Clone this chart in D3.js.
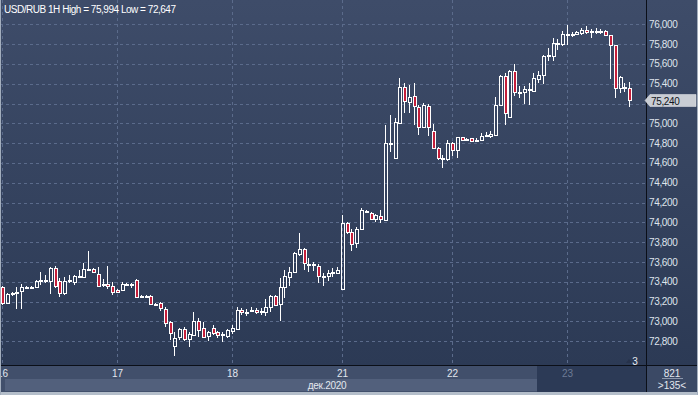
<!DOCTYPE html>
<html>
<head>
<meta charset="utf-8">
<script src="https://cdn.jsdelivr.net/npm/d3@7"></script>
<style>
  html, body { margin: 0; padding: 0; background: #2c3a55; overflow: hidden; }
  svg { display: block; font-family: "Liberation Sans", Arial, sans-serif; }
</style>
</head>
<body>
<div id="chart"></div>
<script>
/* data : hourly candles USD/RUB */
var opens = [73345,73183,73274,73291,73311,73345,73351,73345,73412,73419,73412,73536,73405,73284,73412,73402,73459,73446,73526,73526,73479,73368,73375,73358,
  73318,73318,73375,73378,73419,73255,73261,73257,73176,73190,73126,72995,72756,72847,72921,72820,72863,73008,72937,72853,72937,72894,72860,72853,
  72904,72927,73112,73095,73112,73119,73099,73099,73143,73257,73173,73345,73452,73496,73685,73732,73577,73577,73557,73452,73462,73493,73493,
  73331,73997,73907,73796,73930,74119,74098,74031,74068,74024,74798,74647,75000,75364,75219,75276,75168,74960,75175,74923,74748,74647,74637,
  74798,74731,74859,74842,74849,74832,74835,74876,74872,74886,75189,75475,75064,75525,75317,75317,75347,75330,75451,75485,75683,75683,75811,75805,
  75902,75902,75899,75912,75939,75929,75929,75929,75929,75889,75788,75357,75367,75357]
var highs = [73360,73290,73301,73351,73378,73358,73358,73419,73496,73469,73553,73560,73436,73452,73469,73469,73520,73594,73711,73536,73546,73425,73560,73402,
  73330,73402,73385,73385,73429,73267,73267,73267,73183,73200,73150,73005,72897,72937,72948,72897,73092,73038,72998,72904,72964,72904,72890,72924,
  72964,73149,73139,73126,73146,73133,73133,73227,73267,73267,73436,73520,73553,73705,73893,73738,73637,73597,73577,73486,73520,73536,73553,
  74075,74008,73930,73957,74149,74125,74109,74085,74125,74983,75084,75051,75454,75411,75387,75411,75185,75202,75195,74993,74765,74681,74832,
  74815,74866,74866,74856,74856,74849,74899,74909,74923,75263,75492,75508,75542,75599,75374,75374,75407,75508,75525,75687,75761,75862,75855,75929,
  75994,75922,75929,75963,75980,75953,75963,75953,75946,75895,75794,75475,75407,75418]
var lows = [73170,73176,73257,73123,73123,73341,73341,73341,73368,73385,73274,73335,73244,73267,73385,73368,73436,73436,73524,73490,73351,73351,73324,73267,
  73284,73311,73368,73341,73244,73250,73250,73166,73166,73109,72941,72813,72647,72813,72803,72746,72860,72847,72830,72803,72863,72830,72796,72830,
  72870,72924,73065,73059,73092,73072,73065,73059,73092,73153,73008,73240,73362,73486,73664,73516,73503,73510,73385,73358,73409,73452,73476,
  73325,73883,73715,73745,73923,74098,74024,74008,73991,74018,74714,74647,74993,75101,75101,74983,74882,74950,74872,74738,74630,74546,74623,
  74670,74647,74822,74825,74818,74825,74825,74866,74856,74879,75182,74980,75061,75273,75256,75195,75189,75317,75407,75397,75626,75626,75744,75778,
  75788,75872,75889,75895,75905,75862,75905,75902,75879,75451,75256,75306,75317,75162]
var closes = [73183,73274,73291,73295,73345,73351,73348,73412,73419,73415,73536,73358,73284,73412,73415,73459,73455,73526,73533,73496,73358,73375,73358,73301,
  73294,73375,73378,73375,73250,73261,73257,73176,73173,73133,72981,72881,72837,72921,72823,72870,73008,72914,72847,72890,72887,72860,72870,72911,
  72931,73112,73092,73099,73116,73099,73102,73143,73257,73166,73351,73459,73496,73688,73732,73587,73580,73573,73459,73455,73486,73496,73520,
  73997,73907,73779,73930,74125,74105,74031,74075,74031,74798,74801,75010,75364,75226,75269,75175,74960,75185,74960,74748,74647,74650,74798,
  74731,74859,74829,74845,74822,74835,74876,74879,74889,75182,75475,75105,75525,75317,75320,75347,75350,75458,75485,75677,75686,75811,75814,75902,
  75905,75899,75919,75946,75922,75926,75932,75926,75889,75794,75357,75465,75370,75240]

var dayIndex = [0, 24, 48, 71, 94, 118]
var dayLabels = ["16", "17", "18", "21", "22", "23"]
var priceTicks = [72800, 73000, 73200, 73400, 73600, 73800, 74000, 74200, 74400, 74600, 74800, 75000, 75200, 75400, 75600, 75800, 76000]
var lastPrice = 75240
var title = "USD/RUB 1H High = 75,994 Low = 72,647"
var monthLabel = "дек.2020"
var barCount = 135
var cornerTop = "821"
var cornerBottom = ">135<"
var markerCount = "3"

/* const */
var W = 698, H = 395
var plotR = 646, plotB = 365
var fmt = d3.format(",")

var svg = d3.select("#chart").append("svg")
    .attr("width", W)
    .attr("height", H)

var defs = svg.append("defs")
var grad = defs.append("linearGradient")
    .attr("id", "bg")
    .attr("x1", 0).attr("y1", 0).attr("x2", 0).attr("y2", 1)
grad.append("stop").attr("offset", "0%").attr("stop-color", "#3e4c69")
grad.append("stop").attr("offset", "100%").attr("stop-color", "#2c3a55")

svg.append("rect").attr("width", W).attr("height", plotB).attr("fill", "url(#bg)")

/* scales */
var x = d3.scaleBand().domain(d3.range(barCount)).range([-0.4, 645.9])
var cx = function (i) { return Math.round(x(i) + x.bandwidth() / 2) }
var y = d3.scaleLinear().domain([72800, 76000]).range([341.3, 24.3])

/* grid */
svg.append("g").selectAll("line").data(priceTicks).enter().append("line")
    .attr("x1", 0).attr("x2", plotR - 1)
    .attr("y1", function (d) { return Math.round(y(d)) + 0.5 })
    .attr("y2", function (d) { return Math.round(y(d)) + 0.5 })
    .attr("stroke", "#5b6b8b").attr("stroke-dasharray", "3,3")

svg.append("g").selectAll("line").data(dayIndex).enter().append("line")
    .attr("x1", function (d) { return cx(d) + 0.5 })
    .attr("x2", function (d) { return cx(d) + 0.5 })
    .attr("y1", 0).attr("y2", plotB)
    .attr("stroke", "#5b6b8b").attr("stroke-dasharray", "3,3")

/* candles */
var bars = d3.range(opens.length).map(function (i) {
  return { i: i, o: opens[i], h: highs[i], l: lows[i], c: closes[i] }
})

var g = svg.append("g")
bars.forEach(function (b) {
  var px = cx(b.i)
  var top = Math.round(y(Math.max(b.o, b.c)))
  var bot = Math.round(y(Math.min(b.o, b.c)))
  if (bot - top < 1) bot = top + 1
  var yh = Math.round(y(b.h)), yl = Math.round(y(b.l))
  var up = b.c >= b.o
  if (yh < top) {
    g.append("line").attr("x1", px + 0.5).attr("x2", px + 0.5)
        .attr("y1", yh).attr("y2", top).attr("stroke", "#fff")
  }
  if (yl > bot) {
    g.append("line").attr("x1", px + 0.5).attr("x2", px + 0.5)
        .attr("y1", bot + 1).attr("y2", yl).attr("stroke", "#fff")
  }
  g.append("rect")
      .attr("x", px - 0.5).attr("y", top + 0.5)
      .attr("width", 3).attr("height", bot - top)
      .attr("fill", up ? "none" : "#c41e3a")
      .attr("stroke", "#fff").attr("stroke-width", 1)
})

/* right price axis */
var ly = Math.round(y(lastPrice))
svg.append("line").attr("x1", plotR + 0.5).attr("x2", plotR + 0.5)
    .attr("y1", 0).attr("y2", H).attr("stroke", "#0b0f18")

// labels hidden under the last price box are skipped
svg.append("g").selectAll("text")
    .data(priceTicks.filter(function (d) { return Math.abs(y(d) - ly) > 8 }))
    .enter().append("text")
    .attr("x", 649)
    .attr("y", function (d) { return y(d) })
    .attr("dy", "0.35em")
    .attr("fill", "#dfe4ec")
    .attr("font-size", 10)
    .attr("letter-spacing", "-0.35px")
    .text(function (d) { return fmt(d) })

/* last price marker */
svg.append("path")
    .attr("d", "M645," + (ly + 0.5) + " L650," + (ly - 5.5) + " L696," + (ly - 5.5) + " L696," + (ly + 6.5) + " L650," + (ly + 6.5) + " Z")
    .attr("fill", "#c9cdd4").attr("stroke", "#e8ebef").attr("stroke-width", 0.5)
svg.append("text")
    .attr("x", 651).attr("y", ly + 1)
    .attr("dy", "0.35em")
    .attr("fill", "#101521")
    .attr("font-size", 10)
    .attr("letter-spacing", "-0.35px")
    .text(fmt(lastPrice))

/* title */
svg.append("text")
    .attr("x", 4).attr("y", 9)
    .attr("dy", "0.35em")
    .attr("fill", "#ffffff")
    .attr("font-size", 10)
    .attr("textLength", 172).attr("lengthAdjust", "spacing")
    .text(title)

/* marker count bottom right */
svg.append("path")
    .attr("d", "M626,363 L629,359 L632,363 Z")
    .attr("fill", "#27324a")
svg.append("text")
    .attr("x", 635).attr("y", 361)
    .attr("dy", "0.35em")
    .attr("text-anchor", "middle")
    .attr("fill", "#e8ecf2")
    .attr("font-size", 10)
    .text(markerCount)

/* bottom time axis */
svg.append("rect").attr("x", 0).attr("y", plotB + 1).attr("width", plotR).attr("height", H - plotB - 1).attr("fill", "#414f6b")
svg.append("rect").attr("x", 5).attr("y", 379).attr("width", 532).attr("height", 12).attr("fill", "#52607c")
svg.append("rect").attr("x", 537).attr("y", plotB + 1).attr("width", plotR - 537).attr("height", H - plotB - 1).attr("fill", "#2c3a56")
svg.append("rect").attr("x", plotR + 1).attr("y", plotB + 1).attr("width", W - plotR - 1).attr("height", H - plotB - 1).attr("fill", "#3b4965")
svg.append("line").attr("x1", 0).attr("x2", W).attr("y1", plotB + 0.5).attr("y2", plotB + 0.5).attr("stroke", "#0b0f18")
svg.append("line").attr("x1", plotR + 0.5).attr("x2", plotR + 0.5).attr("y1", plotB).attr("y2", H).attr("stroke", "#0b0f18")

svg.append("g").selectAll("text").data(dayIndex).enter().append("text")
    .attr("x", function (d) { return cx(d) + 0.5 })
    .attr("y", 373)
    .attr("dy", "0.35em")
    .attr("text-anchor", "middle")
    .attr("fill", function (d, i) { return x(d) > 537 ? "#6c7a95" : "#e3e8ef" })
    .attr("font-size", 10)
    .text(function (d, i) { return dayLabels[i] })

svg.append("text")
    .attr("x", 327).attr("y", 385.5)
    .attr("dy", "0.35em")
    .attr("text-anchor", "middle")
    .attr("fill", "#e3e8ef")
    .attr("font-size", 10)
    .attr("letter-spacing", "-0.3px")
    .text(monthLabel)

/* corner box */
svg.append("text")
    .attr("x", 672).attr("y", 373)
    .attr("dy", "0.35em").attr("text-anchor", "middle")
    .attr("fill", "#e3e8ef").attr("font-size", 10)
    .text(cornerTop)
svg.append("line").attr("x1", 662).attr("x2", 683).attr("y1", 378.5).attr("y2", 378.5).attr("stroke", "#8d99ad")
svg.append("text")
    .attr("x", 672).attr("y", 385)
    .attr("dy", "0.35em").attr("text-anchor", "middle")
    .attr("fill", "#e3e8ef").attr("font-size", 10)
    .text(cornerBottom)

/* frame */
svg.append("rect").attr("x", 0).attr("y", 392).attr("width", W).attr("height", 3).attr("fill", "#b4beca")
svg.append("rect").attr("x", 0).attr("y", 0).attr("width", 1).attr("height", H).attr("fill", "#a3aebd")
svg.append("rect").attr("x", W - 1).attr("y", 0).attr("width", 1).attr("height", H).attr("fill", "#a3aebd")
</script>
</body>
</html>
